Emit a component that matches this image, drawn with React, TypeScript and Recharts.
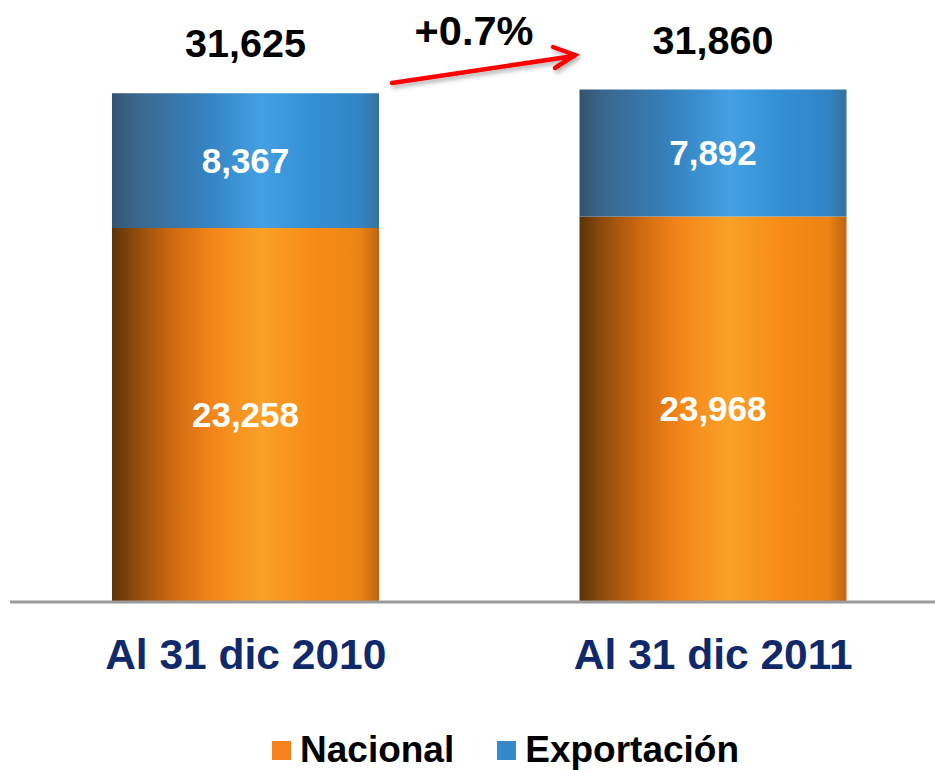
import { Bar, BarChart, Customized, LabelList, Legend, XAxis, YAxis } from 'recharts';

const categories = ['Al 31 dic 2010', 'Al 31 dic 2011'];
const nacional = [23258, 23968];
const exportacion = [8367, 7892];
const growthLabel = '+0.7%';

const data = categories.map((name, i) => ({ name, nacional: nacional[i], exportacion: exportacion[i] }));

const FONT = '"Liberation Sans", Arial, sans-serif';
const fmt = (v: number) => v.toLocaleString('en-US');

function CategoryTick({ x, y, payload }: any) {
  return (
    <text x={x} y={y + 67} textAnchor="middle" fontFamily={FONT} fontWeight="bold" fontSize={42.5} fill="#10296b">
      {payload.value}
    </text>
  );
}

function InnerLabel({ x, y, width, height, value }: any) {
  return (
    <text x={x + width / 2} y={y + height / 2 + 12} textAnchor="middle" fontFamily={FONT} fontWeight="bold" fontSize={35} fill="#fff">
      {fmt(value)}
    </text>
  );
}

function TotalLabel({ x, y, width, index }: any) {
  const total = nacional[index] + exportacion[index];
  return (
    <text x={x + width / 2} y={y - 36} textAnchor="middle" fontFamily={FONT} fontWeight="bold" fontSize={39.5} fill="#000">
      {fmt(total)}
    </text>
  );
}

// growth annotation between the two totals
function GrowthArrow() {
  return (
    <g>
      <defs>
        <filter id="arrowShadow" x="-10%" y="-50%" width="120%" height="200%">
          <feDropShadow dx="2" dy="3" stdDeviation="2" floodColor="#000" floodOpacity="0.3" />
        </filter>
      </defs>
      <text x={474} y={45} textAnchor="middle" fontFamily={FONT} fontWeight="bold" fontSize={41.5} fill="#000">
        {growthLabel}
      </text>
      <g stroke="#ff0000" strokeWidth={4.5} strokeLinecap="round" fill="none" filter="url(#arrowShadow)">
        <line x1={392} y1={83} x2={574} y2={56} />
        <polyline points="553,47 575,55 555,68" strokeLinejoin="miter" />
      </g>
    </g>
  );
}

function LegendContent() {
  const items = [
    { label: 'Nacional', color: '#f5821f' },
    { label: 'Exportación', color: '#3589cb' },
  ];
  return (
    <div style={{ display: 'flex', alignItems: 'center', gap: 43, fontFamily: FONT }}>
      {items.map((it) => (
        <div key={it.label} style={{ display: 'flex', alignItems: 'center', gap: 9 }}>
          <span style={{ width: 19, height: 19, background: it.color, display: 'inline-block' }} />
          <span style={{ fontSize: 37, fontWeight: 'bold', color: '#000', lineHeight: '40px' }}>{it.label}</span>
        </div>
      ))}
    </div>
  );
}

export default function App() {
  return (
    <div style={{ position: 'absolute', left: 0, top: 0, width: 935, height: 770, overflow: 'hidden', background: '#fff' }}>
      <BarChart width={947} height={770} data={data} margin={{ top: 23, right: 0, bottom: 78, left: 10 }} barSize={267}>
        <defs>
          <linearGradient id="gradOrange" x1="0" y1="0" x2="1" y2="0">
            <stop offset="0%" stopColor="#5c3207" />
            <stop offset="8%" stopColor="#8a4a0c" />
            <stop offset="22%" stopColor="#cc680f" />
            <stop offset="38%" stopColor="#f5861a" />
            <stop offset="56%" stopColor="#f9a128" />
            <stop offset="76%" stopColor="#f88b17" />
            <stop offset="93%" stopColor="#ec8316" />
            <stop offset="100%" stopColor="#c0640f" />
          </linearGradient>
          <linearGradient id="gradBlue" x1="0" y1="0" x2="1" y2="0">
            <stop offset="0%" stopColor="#34546f" />
            <stop offset="10%" stopColor="#3a6890" />
            <stop offset="35%" stopColor="#3582c0" />
            <stop offset="56%" stopColor="#43a0e2" />
            <stop offset="76%" stopColor="#338fd3" />
            <stop offset="93%" stopColor="#3284c4" />
            <stop offset="100%" stopColor="#36719c" />
          </linearGradient>
        </defs>
        <XAxis
          dataKey="name"
          height={90}
          padding={{ left: 2, right: 0 }}
          axisLine={{ stroke: '#9a9a9a', strokeWidth: 3 }}
          tickLine={false}
          tickSize={0}
          tickMargin={0}
          interval={0}
          tick={<CategoryTick />}
        />
        <YAxis hide domain={[0, 36000]} />
        <Legend
          verticalAlign="middle"
          layout="horizontal"
          content={<LegendContent />}
          wrapperStyle={{ position: 'absolute', top: 730, left: 272, width: 520, height: 40 }}
        />
        <Bar dataKey="nacional" name="Nacional" stackId="a" fill="url(#gradOrange)" isAnimationActive={false}>
          <LabelList dataKey="nacional" content={<InnerLabel />} />
        </Bar>
        <Bar dataKey="exportacion" name="Exportación" stackId="a" fill="url(#gradBlue)" isAnimationActive={false}>
          <LabelList dataKey="exportacion" content={<InnerLabel />} />
          <LabelList dataKey="exportacion" content={<TotalLabel />} />
        </Bar>
        <Customized component={GrowthArrow} />
      </BarChart>
    </div>
  );
}
